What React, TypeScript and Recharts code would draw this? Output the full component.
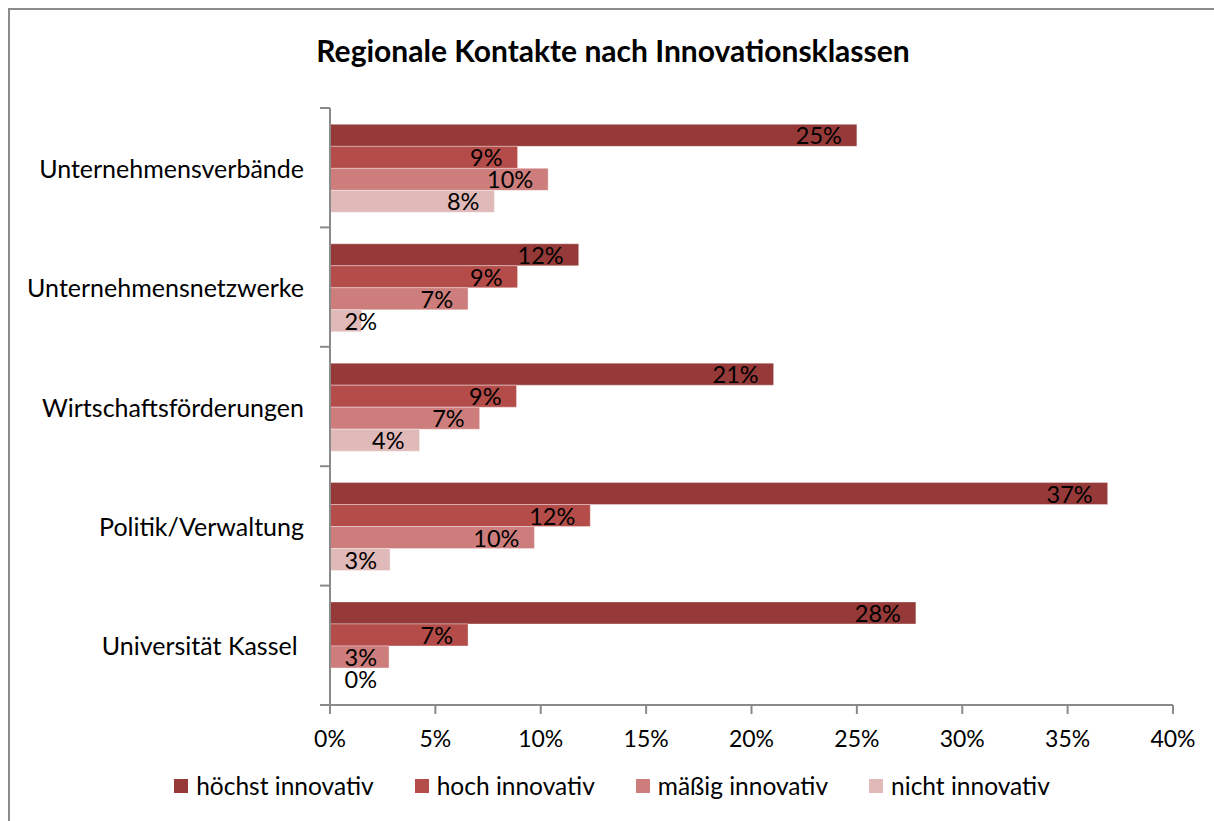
import React from 'react';
import { BarChart, Bar, XAxis, YAxis, LabelList } from 'recharts';

const categories = [
  'Unternehmensverbände',
  'Unternehmensnetzwerke',
  'Wirtschaftsförderungen',
  'Politik/Verwaltung',
  'Universität Kassel ',
];
const hoechstInnovativ = [25.0, 11.8, 21.05, 36.9, 27.8];
const hochInnovativ = [8.9, 8.9, 8.85, 12.35, 6.55];
const maessigInnovativ = [10.35, 6.55, 7.1, 9.7, 2.8];
const nichtInnovativ = [7.8, 1.5, 4.25, 2.85, 0];
const xTicks = [0, 5, 10, 15, 20, 25, 30, 35, 40];

const seriesNames = ['höchst innovativ', 'hoch innovativ', 'mäßig innovativ', 'nicht innovativ'];
const seriesKeys = ['s1', 's2', 's3', 's4'];
const seriesColors = ['#953a39', '#b44c49', '#cc7d7c', '#e0b9b9'];

const data = categories.map((name, i) => ({
  name,
  s1: hoechstInnovativ[i],
  s2: hochInnovativ[i],
  s3: maessigInnovativ[i],
  s4: nichtInnovativ[i],
}));

const FONT = "Lato, 'Open Sans', sans-serif";
const W = 1214;
const H = 821;
const MARGIN = { top: 108, right: 41, bottom: 86, left: 0 };
const X_AXIS_H = 30;
const Y_AXIS_W = 330;
const AXIS_COLOR = '#8a8a8a';
const PLOT_H = H - MARGIN.top - MARGIN.bottom - X_AXIS_H;
const HALF_BAND = PLOT_H / categories.length / 2;

const CategoryTick = (props: any) => {
  const { x, y, payload, index } = props;
  return (
    <g>
      <line x1={x - 10} x2={x} y1={y - HALF_BAND} y2={y - HALF_BAND} stroke={AXIS_COLOR} strokeWidth={2} />
      {index === categories.length - 1 && (
        <line x1={x - 10} x2={x} y1={y + HALF_BAND} y2={y + HALF_BAND} stroke={AXIS_COLOR} strokeWidth={2} />
      )}
      <text
        x={x - 26}
        y={y}
        textAnchor="end"
        dominantBaseline="central"
        fontFamily={FONT}
        fontSize={25}
        fill="#000"
        style={{ whiteSpace: 'pre' }}
      >
        {payload.value}
      </text>
    </g>
  );
};

const BarValueLabel = (props: any) => {
  const { x, y, width, height, value } = props;
  const text = `${Math.round(Number(value))}%`;
  const est = text.length === 2 ? 32 : 46;
  const right = Math.max(x + width - 15, x + 15 + est);
  return (
    <text
      x={right}
      y={y + height / 2}
      textAnchor="end"
      dominantBaseline="central"
      fontFamily={FONT}
      fontSize={23.5}
      fill="#000"
    >
      {text}
    </text>
  );
};

export default function App() {
  return (
    <div style={{ position: 'absolute', left: 0, top: 0, width: W, height: H, overflow: 'hidden', background: '#fff' }}>
      <div
        style={{
          position: 'absolute',
          left: 8,
          top: 8,
          width: W - 8,
          height: H - 8,
          borderLeft: '2px solid #8c8c8c',
          borderTop: '2px solid #8c8c8c',
          boxSizing: 'border-box',
        }}
      />
      <div
        style={{
          position: 'absolute',
          left: 0,
          top: 30,
          width: W + 12,
          textAlign: 'center',
          fontFamily: FONT,
          fontWeight: 700,
          fontSize: 30,
          lineHeight: '40px',
          color: '#000',
        }}
      >
        Regionale Kontakte nach Innovationsklassen
      </div>
      <div style={{ position: 'absolute', left: 0, top: 0 }}>
        <BarChart
          width={W}
          height={H}
          data={data}
          layout="vertical"
          margin={MARGIN}
          barCategoryGap="13.7%"
          barGap={0}
        >
          <XAxis
            type="number"
            domain={[0, 40]}
            ticks={xTicks}
            tickFormatter={(v: number) => `${v}%`}
            height={X_AXIS_H}
            axisLine={{ stroke: AXIS_COLOR, strokeWidth: 2 }}
            tickLine={{ stroke: AXIS_COLOR, strokeWidth: 2 }}
            tickSize={9}
            tickMargin={17}
            tick={{ fontFamily: FONT, fontSize: 23, fill: '#000' }}
            interval={0}
          />
          <YAxis
            type="category"
            dataKey="name"
            width={Y_AXIS_W}
            axisLine={{ stroke: AXIS_COLOR, strokeWidth: 2 }}
            tickLine={false}
            tickSize={0}
            tickMargin={0}
            tick={<CategoryTick />}
            interval={0}
          />
          {seriesKeys.map((k, i) => (
            <Bar
              key={k}
              dataKey={k}
              name={seriesNames[i]}
              fill={seriesColors[i]}
              stroke="rgba(255,255,255,0.35)"
              strokeWidth={1}
              minPointSize={(v: any) => (Number(v) === 0 ? 0.1 : 0)}
              isAnimationActive={false}
            >
              <LabelList dataKey={k} content={<BarValueLabel />} />
            </Bar>
          ))}
        </BarChart>
      </div>
      <div
        style={{
          position: 'absolute',
          left: 0,
          top: 770,
          width: W + 10,
          display: 'flex',
          justifyContent: 'center',
          gap: 41,
          fontFamily: FONT,
          fontSize: 24.5,
          lineHeight: '32px',
          color: '#000',
        }}
      >
        {seriesNames.map((n, i) => (
          <div key={n} style={{ display: 'flex', alignItems: 'center' }}>
            <span style={{ display: 'inline-block', width: 14, height: 14, background: seriesColors[i], marginRight: 8 }} />
            <span>{n}</span>
          </div>
        ))}
      </div>
    </div>
  );
}
